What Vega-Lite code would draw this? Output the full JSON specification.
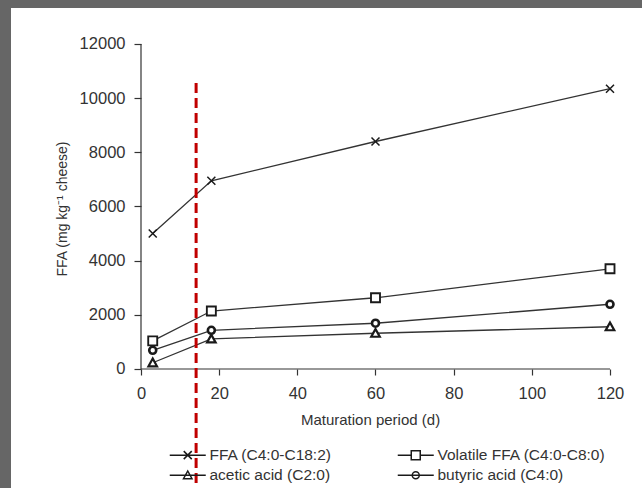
{
  "$schema": "https://vega.github.io/schema/vega-lite/v6.json",
  "width": 631,
  "height": 480,
  "autosize": {"type": "none"},
  "padding": {"left": 11, "top": 8, "right": 0, "bottom": 0},
  "background": "#666666",
  "config": {
    "view": {"fill": "white", "stroke": null},
    "font": "Liberation Sans"
  },
  "datasets": {
    "series": [
      {"series": "FFA (C4:0-C18:2)", "day": 3, "ffa": 5000},
      {"series": "FFA (C4:0-C18:2)", "day": 18, "ffa": 6950},
      {"series": "FFA (C4:0-C18:2)", "day": 60, "ffa": 8400},
      {"series": "FFA (C4:0-C18:2)", "day": 120, "ffa": 10350},
      {"series": "Volatile FFA (C4:0-C8:0)", "day": 3, "ffa": 1040},
      {"series": "Volatile FFA (C4:0-C8:0)", "day": 18, "ffa": 2140},
      {"series": "Volatile FFA (C4:0-C8:0)", "day": 60, "ffa": 2630},
      {"series": "Volatile FFA (C4:0-C8:0)", "day": 120, "ffa": 3700},
      {"series": "acetic acid (C2:0)", "day": 3, "ffa": 230},
      {"series": "acetic acid (C2:0)", "day": 18, "ffa": 1110},
      {"series": "acetic acid (C2:0)", "day": 60, "ffa": 1320},
      {"series": "acetic acid (C2:0)", "day": 120, "ffa": 1560},
      {"series": "butyric acid (C4:0)", "day": 3, "ffa": 690},
      {"series": "butyric acid (C4:0)", "day": 18, "ffa": 1430},
      {"series": "butyric acid (C4:0)", "day": 60, "ffa": 1690},
      {"series": "butyric acid (C4:0)", "day": 120, "ffa": 2390}
    ],
    "axes": [
      {"day": 0, "day2": 0, "ffa": 0, "ffa2": 12000},
      {"day": 0, "day2": 120, "ffa": 0, "ffa2": 0}
    ],
    "marker": [
      {"day": 14.1, "ffa": 10560, "ffa2": -4394}
    ]
  },
  "resolve": {"scale": {"shape": "independent"}, "legend": {"shape": "independent"}},
  "layer": [
    {
      "data": {"name": "axes"},
      "mark": {"type": "rule", "color": "#333333", "strokeWidth": 1.2},
      "encoding": {
        "x": {"field": "day", "type": "quantitative", "scale": {"domain": [-33.262, 128.188], "nice": false, "zero": false}},
        "x2": {"field": "day2"},
        "y": {"field": "ffa", "type": "quantitative", "scale": {"domain": [-4393.85, 13329.23], "nice": false, "zero": false}},
        "y2": {"field": "ffa2"}
      }
    },
    {
      "data": {"name": "series"},
      "mark": {"type": "line", "color": "#333333", "strokeWidth": 1.3},
      "encoding": {
        "x": {
          "field": "day", "type": "quantitative",
          "scale": {"domain": [-33.262, 128.188], "nice": false, "zero": false},
          "axis": {
            "values": [0, 20, 40, 60, 80, 100, 120],
            "offset": -119,
            "domain": false,
            "grid": false,
            "tickSize": 6,
            "tickColor": "#333333",
            "tickWidth": 1.2,
            "labelFontSize": 16.5,
            "labelColor": "#333333",
            "labelPadding": 10,
            "labelFlush": false,
            "labelOverlap": false,
            "title": "Maturation period (d)",
            "titleFontSize": 15,
            "titleFontWeight": "normal",
            "titleColor": "#333333",
            "titleX": 359,
            "titleY": 50,
            "titleAlign": "center",
            "titleBaseline": "middle"
          }
        },
        "y": {
          "field": "ffa", "type": "quantitative",
          "scale": {"domain": [-4393.85, 13329.23], "nice": false, "zero": false},
          "axis": {
            "values": [0, 2000, 4000, 6000, 8000, 10000, 12000],
            "format": "d",
            "offset": -130,
            "domain": false,
            "grid": false,
            "tickSize": 7,
            "tickColor": "#333333",
            "tickWidth": 1.2,
            "labelFontSize": 16.5,
            "labelColor": "#333333",
            "labelPadding": 9,
            "labelOverlap": false,
            "title": "FFA (mg kg⁻¹ cheese)",
            "titleFontSize": 14,
            "titleFontWeight": "normal",
            "titleColor": "#333333",
            "titleAngle": -90,
            "titleX": -78.5,
            "titleY": 200.5,
            "titleAlign": "center",
            "titleBaseline": "middle"
          }
        },
        "detail": {"field": "series"}
      }
    },
    {
      "data": {"name": "marker"},
      "mark": {"type": "rule", "color": "#c00000", "strokeWidth": 3, "strokeDash": [10, 5]},
      "encoding": {
        "x": {"field": "day", "type": "quantitative"},
        "y": {"field": "ffa", "type": "quantitative"},
        "y2": {"field": "ffa2"}
      }
    },
    {
      "data": {"name": "series"},
      "mark": {"type": "point", "filled": true, "fill": "white", "stroke": "#1a1a1a", "size": 100, "opacity": 1},
      "encoding": {
        "x": {"field": "day", "type": "quantitative"},
        "y": {"field": "ffa", "type": "quantitative"},
        "strokeWidth": {
          "field": "series", "type": "nominal",
          "scale": {
            "domain": ["FFA (C4:0-C18:2)", "Volatile FFA (C4:0-C8:0)", "acetic acid (C2:0)", "butyric acid (C4:0)"],
            "range": [1.5, 2.6, 1.5, 1.5]
          },
          "legend": null
        },
        "shape": {
          "field": "series", "type": "nominal",
          "scale": {
            "domain": ["FFA (C4:0-C18:2)", "Volatile FFA (C4:0-C8:0)", "acetic acid (C2:0)", "butyric acid (C4:0)"],
            "range": [
              "M-0.8,-0.8L0.8,0.8M-0.8,0.8L0.8,-0.8",
              "M-0.9,-0.9H0.9V0.9H-0.9Z",
              "M0,-0.85L0.85,0.7H-0.85Z",
              "M0.7,0A0.7,0.7 0 1,1 -0.7,0A0.7,0.7 0 1,1 0.7,0"
            ]
          },
          "legend": null
        }
      }
    },
    {
      "data": {"name": "series"},
      "transform": [{"filter": "datum.day < 0"}],
      "mark": {"type": "point", "filled": false, "color": "#1a1a1a", "strokeWidth": 1.5, "size": 100, "opacity": 1},
      "encoding": {
        "x": {"field": "day", "type": "quantitative"},
        "y": {"field": "ffa", "type": "quantitative"},
        "shape": {
          "field": "series", "type": "nominal",
          "scale": {
            "domain": ["FFA (C4:0-C18:2)", "Volatile FFA (C4:0-C8:0)", "acetic acid (C2:0)", "butyric acid (C4:0)"],
            "range": [
              "M-3.6,0H3.6M-0.8,-0.8L0.8,0.8M-0.8,0.8L0.8,-0.8",
              "M-3.6,0H-0.9M0.9,0H3.6M-0.9,-0.9H0.9V0.9H-0.9Z",
              "M-3.6,0H3.6M0,-0.85L0.85,0.7H-0.85Z",
              "M-3.6,0H3.6M0.7,0A0.7,0.7 0 1,1 -0.7,0A0.7,0.7 0 1,1 0.7,0"
            ]
          },
          "legend": {
            "title": null,
            "orient": "none",
            "direction": "horizontal",
            "legendX": 159,
            "legendY": 439,
            "columns": 2,
            "columnPadding": 62,
            "rowPadding": 3.5,
            "padding": 0,
            "offset": 0,
            "labelFontSize": 15.5,
            "labelColor": "#333333",
            "labelLimit": 400,
            "symbolOffset": 10,
            "labelOffset": 14,
            "symbolSize": 100,
            "symbolStrokeWidth": 1.5,
            "symbolStrokeColor": "#1a1a1a"
          }
        }
      }
    }
  ]
}
